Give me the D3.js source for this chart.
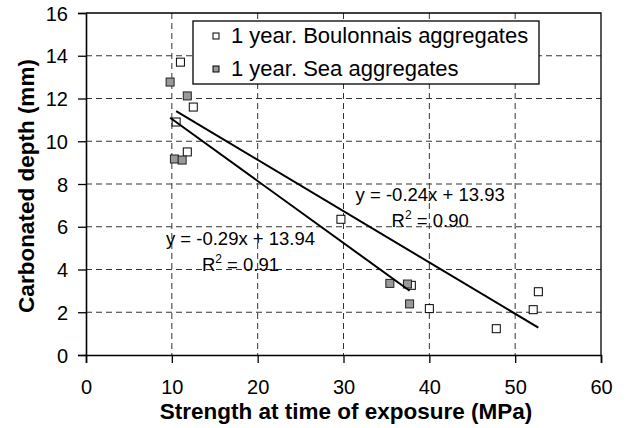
<!DOCTYPE html>
<meta charset="utf-8">
<head>
  <style>
    body { margin: 0; background: #fff; }
    svg { display: block; }
    .tick text { font-family: 'Liberation Sans', Arial, sans-serif; font-size: 20px; fill: #000; }
    .title { font-family: 'Liberation Sans', Arial, sans-serif; font-size: 22.5px; font-weight: bold; fill: #000; }
    .lgd { font-family: 'Liberation Sans', Arial, sans-serif; font-size: 22px; fill: #000; }
    .eq { font-family: 'Liberation Sans', Arial, sans-serif; font-size: 18.5px; fill: #000; }
  </style>
</head>
<body>
<svg id="chart" width="630" height="428"></svg>

<script src="https://d3js.org/d3.v7.min.js"></script>
<script>

  // Boulonnais aggregates (white squares)
  var bouX = [11.0, 12.5, 10.5, 11.8, 29.7, 37.9, 40.0, 47.8, 52.1, 52.7];
  var bouY = [13.7, 11.6, 10.9, 9.5, 6.35, 3.26, 2.17, 1.23, 2.12, 2.96];

  // Sea aggregates (grey squares)
  var seaX = [9.8, 11.8, 10.3, 11.2, 35.4, 37.45, 37.7];
  var seaY = [12.77, 12.12, 9.17, 9.12, 3.35, 3.32, 2.39];

  var seriesNames = ["1 year. Boulonnais aggregates", "1 year. Sea aggregates"];
  var slopes = [-0.24, -0.29];
  var intercepts = [13.93, 13.94];
  var r2 = ["0.90", "0.91"];
  var eqX = [40.1, 18.0];   // label centres (data units)
  var eqY = [7.22, 5.15];

  var xTicks = [0, 10, 20, 30, 40, 50, 60];
  var yTicks = [0, 2, 4, 6, 8, 10, 12, 14, 16];

  var margin = {top: 13, right: 29, bottom: 73, left: 86};
  var W = 630 - margin.left - margin.right,
      H = 428 - margin.top - margin.bottom;

  var svg = d3.select("#chart");
  var g = svg.append("g").attr("transform", "translate(" + margin.left + "," + margin.top + ")");

  var x = d3.scaleLinear().domain([0, 60]).range([0, W]);
  var y = d3.scaleLinear().domain([0, 16]).range([H, 0]);

  // grid
  g.selectAll(".vgrid").data(xTicks.slice(1, -1)).enter().append("line")
    .attr("x1", d => x(d)).attr("x2", d => x(d)).attr("y1", 0).attr("y2", H)
    .attr("stroke", "#333").attr("stroke-width", 1).attr("stroke-dasharray", "6,4");
  g.selectAll(".hgrid").data(yTicks.slice(1, -1)).enter().append("line")
    .attr("x1", 0).attr("x2", W).attr("y1", d => y(d)).attr("y2", d => y(d))
    .attr("stroke", "#333").attr("stroke-width", 1).attr("stroke-dasharray", "6,4");

  // top / right border
  g.append("path").attr("d", "M0,0H" + W + "V" + H).attr("fill", "none")
    .attr("stroke", "#000").attr("stroke-width", 1.3);

  // axes
  var xAxis = g.append("g").attr("transform", "translate(0," + H + ")")
    .call(d3.axisBottom(x).tickValues(xTicks).tickSize(8).tickPadding(10));
  var yAxis = g.append("g")
    .call(d3.axisLeft(y).tickValues(yTicks).tickSize(8).tickPadding(10));
  [xAxis, yAxis].forEach(function (a) {
    a.select(".domain").attr("stroke", "#000").attr("stroke-width", 1.6);
    a.selectAll(".tick line").attr("stroke", "#000").attr("stroke-width", 1.3);
  });
  xAxis.selectAll(".tick text").attr("dy", "1.05em");
  yAxis.selectAll(".tick text").attr("dy", "0.35em");

  // markers
  var sz = 8;
  g.selectAll(".bou").data(d3.range(bouX.length)).enter().append("rect")
    .attr("x", i => x(bouX[i]) - sz / 2).attr("y", i => y(bouY[i]) - sz / 2)
    .attr("width", sz).attr("height", sz)
    .attr("fill", "#fff").attr("stroke", "#000").attr("stroke-width", 1);
  g.selectAll(".sea").data(d3.range(seaX.length)).enter().append("rect")
    .attr("x", i => x(seaX[i]) - sz / 2).attr("y", i => y(seaY[i]) - sz / 2)
    .attr("width", sz).attr("height", sz)
    .attr("fill", "#999").attr("stroke", "#222").attr("stroke-width", 1);

  // trend lines over each series' x range
  [bouX, seaX].forEach(function (xs, k) {
    var ext = d3.extent(xs);
    g.append("line")
      .attr("x1", x(ext[0])).attr("y1", y(slopes[k] * ext[0] + intercepts[k]))
      .attr("x2", x(ext[1])).attr("y2", y(slopes[k] * ext[1] + intercepts[k]))
      .attr("stroke", "#000").attr("stroke-width", 2);
  });

  // equations
  [0, 1].forEach(function (k) {
    g.append("text").attr("class", "eq").attr("text-anchor", "middle")
      .attr("x", x(eqX[k])).attr("y", y(eqY[k]))
      .text("y = " + slopes[k].toFixed(2) + "x + " + intercepts[k].toFixed(2));
    var t = g.append("text").attr("class", "eq").attr("text-anchor", "middle")
      .attr("x", x(eqX[k])).attr("y", y(eqY[k]) + 26);
    t.append("tspan").text("R");
    t.append("tspan").attr("dy", -8).attr("font-size", "12px").text("2");
    t.append("tspan").attr("dy", 8).text(" = " + r2[k]);
  });

  // legend
  var lg = g.append("g").attr("transform", "translate(107,8)");
  lg.append("rect").attr("width", 346).attr("height", 63)
    .attr("fill", "#fff").attr("stroke", "#000").attr("stroke-width", 1.3);
  var fills = ["#fff", "#999"];
  seriesNames.forEach(function (n, k) {
    var row = lg.append("g").attr("transform", "translate(0," + (15 + k * 33) + ")");
    row.append("rect").attr("x", 20).attr("y", -3).attr("width", 6).attr("height", 6)
      .attr("fill", fills[k]).attr("stroke", "#000").attr("stroke-width", 1);
    row.append("text").attr("class", "lgd").attr("x", 38).attr("y", 6.5).text(n);
  });

  // axis titles
  svg.append("text").attr("class", "title").attr("text-anchor", "middle")
    .attr("x", 346).attr("y", 419).text("Strength at time of exposure (MPa)");
  svg.append("text").attr("class", "title").attr("text-anchor", "middle")
    .attr("transform", "translate(34,186) rotate(-90)").text("Carbonated depth (mm)");

</script>
</body>
